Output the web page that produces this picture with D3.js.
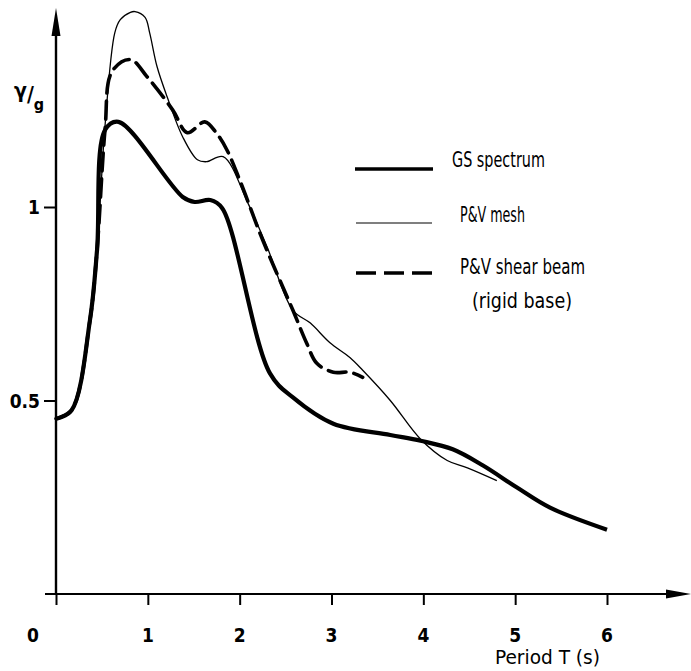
<!DOCTYPE html>
<html><head><meta charset="utf-8">
<script src="https://cdn.jsdelivr.net/npm/d3@7"></script>
<style>
html,body{margin:0;padding:0;background:#fff;}
text{font-family:"DejaVu Sans Condensed","DejaVu Sans",sans-serif;fill:#000;}
</style></head>
<body><svg id="c" width="691" height="671"></svg>
<script>
// Period T (s)
const gsT   = [0, 0.17, 0.37, 0.447, 0.534, 0.68, 1.38, 1.51, 1.68, 1.81, 2.33, 2.58, 3.02, 3.64, 3.97, 4.32, 4.65, 5.02, 5.38, 6.0];
const gsY   = [0.453, 0.475, 0.708, 0.889, 1.199, 1.22, 1.026, 1.013, 1.018, 0.997, 0.57, 0.508, 0.44, 0.411, 0.396, 0.374, 0.332, 0.275, 0.223, 0.166];
const meshT = [0, 0.17, 0.37, 0.447, 0.534, 0.64, 0.70, 0.81, 0.86, 0.97, 1.02, 1.10, 1.21, 1.38, 1.54, 1.64, 1.82, 2.09, 2.30, 2.58, 2.77, 2.98, 3.20, 3.34, 3.64, 3.97, 4.26, 4.48, 4.80];
const meshY = [0.453, 0.475, 0.708, 0.889, 1.21, 1.45, 1.484, 1.503, 1.505, 1.49, 1.45, 1.363, 1.285, 1.181, 1.122, 1.117, 1.13, 1.01, 0.896, 0.733, 0.70, 0.65, 0.611, 0.578, 0.50, 0.40, 0.345, 0.326, 0.293];
const beamT = [0, 0.17, 0.37, 0.447, 0.534, 0.61, 0.81, 0.99, 1.27, 1.43, 1.62, 1.75, 1.86, 2.0, 2.25, 2.58, 2.73, 2.84, 3.02, 3.20, 3.34];
const beamY = [0.453, 0.475, 0.708, 0.889, 1.20, 1.35, 1.381, 1.337, 1.251, 1.192, 1.22, 1.19, 1.148, 1.07, 0.915, 0.733, 0.648, 0.596, 0.573, 0.573, 0.56];
const xTicks = [0, 1, 2, 3, 4, 5, 6];
const yTicks = [0.5, 1];
const legendLabels = ["GS spectrum", "P&V mesh", "P&V shear beam"];

const svg = d3.select("#c");
const x = d3.scaleLinear().domain([0, 6]).range([56, 607]);
const y = d3.scaleLinear().domain([0, 1]).range([594, 207]);

// axes lines
svg.append("line").attr("x1", 45).attr("x2", 672).attr("y1", y(0)).attr("y2", y(0)).attr("stroke", "#000").attr("stroke-width", 2.2);
svg.append("line").attr("x1", x(0)).attr("x2", x(0)).attr("y1", y(0)).attr("y2", 30).attr("stroke", "#000").attr("stroke-width", 2.4);
svg.append("path").attr("d", `M${x(0)},8 L${x(0)-4.5},36 L${x(0)+4.5},36 Z`).attr("fill", "#000");
svg.append("path").attr("d", `M691,${y(0)} L666,${y(0)-4.5} L666,${y(0)+4.5} Z`).attr("fill", "#000");

const xAxis = d3.axisBottom(x).tickValues(xTicks).tickSize(11).tickSizeOuter(0).tickFormat("");
const gx = svg.append("g").attr("transform", `translate(0,${y(0)})`).call(xAxis);
gx.select(".domain").remove();
gx.selectAll(".tick line").attr("stroke-width", 2);
const yAxis = d3.axisLeft(y).tickValues(yTicks).tickSize(12).tickSizeOuter(0).tickFormat("");
const gy = svg.append("g").attr("transform", `translate(${x(0)},0)`).call(yAxis);
gy.select(".domain").remove();
gy.selectAll(".tick line").attr("stroke-width", 2);

// tick labels
svg.selectAll(".xl").data(xTicks).enter().append("text").attr("class", "xl")
  .attr("x", d => d === 0 ? 33 : x(d)).attr("y", 642).attr("text-anchor", "middle")
  .attr("font-size", 19).attr("font-weight", "bold").text(d => d);
svg.selectAll(".yl").data(yTicks).enter().append("text").attr("class", "yl")
  .attr("x", 40).attr("y", d => y(d) + 7).attr("text-anchor", "end")
  .attr("font-size", 19).attr("font-weight", "bold").text(d => d);

svg.append("text").attr("x", 495).attr("y", 664).attr("font-size", 20)
  .attr("textLength", 105).attr("lengthAdjust", "spacingAndGlyphs").text("Period T (s)");

// y label γ/g as one text
const yl = svg.append("text").attr("x", 14).attr("y", 98).attr("font-size", 21).attr("font-weight", "bold");
yl.append("tspan").text("γ");
yl.append("tspan").attr("dy", 4).text("/");
yl.append("tspan").attr("dy", 8).attr("font-size", 16).text("g");

const line = d3.line().x(d => x(d[0])).y(d => y(d[1])).curve(d3.curveCatmullRom.alpha(0.5));
const zip = (a, b) => a.map((v, i) => [v, b[i]]);

svg.append("path").attr("d", line(zip(meshT, meshY))).attr("fill", "none").attr("stroke", "#000").attr("stroke-width", 1.3);
svg.append("path").attr("d", line(zip(beamT, beamY))).attr("fill", "none").attr("stroke", "#000").attr("stroke-width", 3.6)
  .attr("stroke-dasharray", "18,8").attr("stroke-linecap", "round");
svg.append("path").attr("d", line(zip(gsT, gsY))).attr("fill", "none").attr("stroke", "#000").attr("stroke-width", 4.2).attr("stroke-linejoin", "round");

// legend
const lg = svg.append("g");
lg.append("line").attr("x1", 355).attr("x2", 433).attr("y1", 169).attr("y2", 169).attr("stroke", "#000").attr("stroke-width", 3.6);
lg.append("line").attr("x1", 356).attr("x2", 432).attr("y1", 223).attr("y2", 223).attr("stroke", "#000").attr("stroke-width", 1.2);
lg.append("line").attr("x1", 356).attr("x2", 432).attr("y1", 273).attr("y2", 273).attr("stroke", "#000").attr("stroke-width", 3.4).attr("stroke-dasharray", "20,8");
const legTxt = [
  {t: legendLabels[0], x: 452, y: 167, w: 93},
  {t: legendLabels[1], x: 460, y: 222, w: 65},
  {t: legendLabels[2], x: 460, y: 274, w: 125},
  {t: "(rigid base)", x: 472, y: 308, w: 100}
];
lg.selectAll("text").data(legTxt).enter().append("text")
  .attr("x", d => d.x).attr("y", d => d.y).attr("font-size", 21)
  .attr("textLength", d => d.w).attr("lengthAdjust", "spacingAndGlyphs").text(d => d.t);
</script></body></html>
